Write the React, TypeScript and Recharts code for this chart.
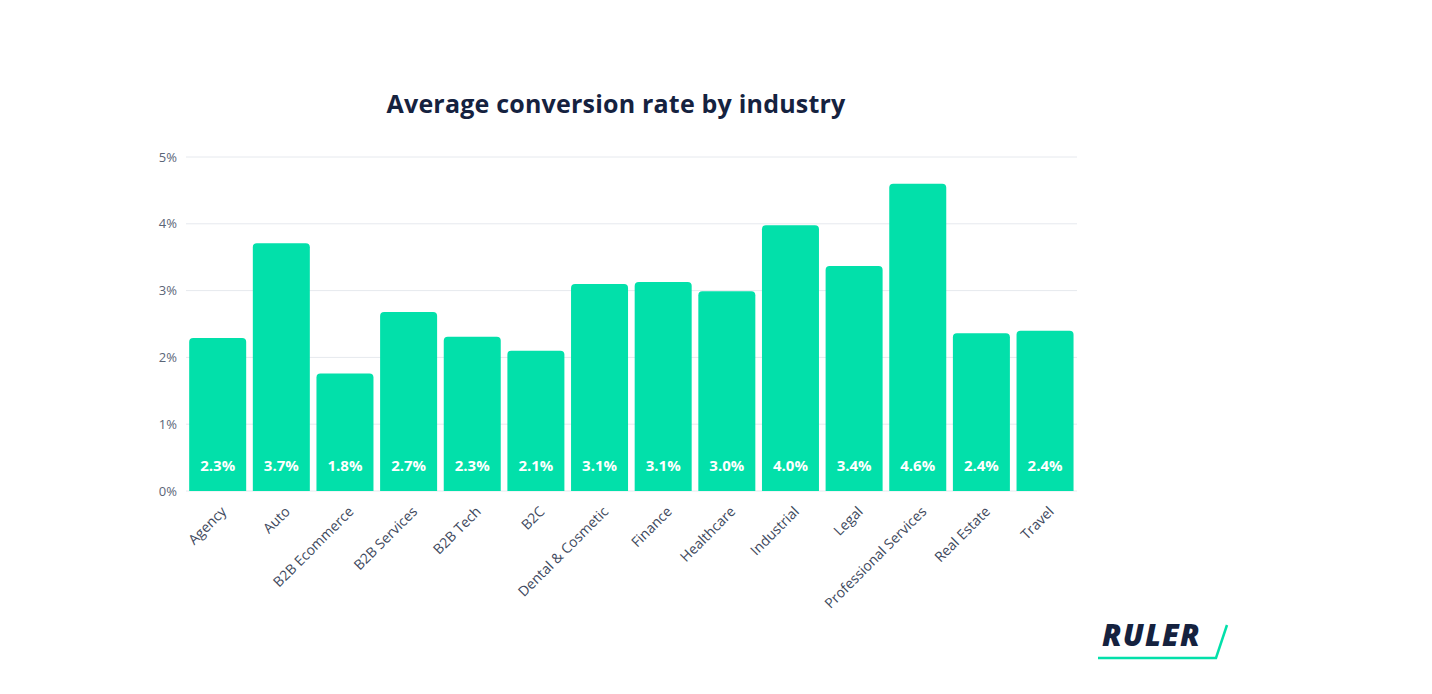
import React from 'react';
import { BarChart, Bar, XAxis, YAxis, CartesianGrid, LabelList } from 'recharts';

const industries = [
  'Agency',
  'Auto',
  'B2B Ecommerce',
  'B2B Services',
  'B2B Tech',
  'B2C',
  'Dental & Cosmetic',
  'Finance',
  'Healthcare',
  'Industrial',
  'Legal',
  'Professional Services',
  'Real Estate',
  'Travel',
];

// bar heights (percent)
const conversionRates = [2.29, 3.71, 1.76, 2.68, 2.31, 2.1, 3.1, 3.13, 2.99, 3.98, 3.37, 4.6, 2.36, 2.4];

// labels as printed inside the bars
const rateLabels = ['2.3%', '3.7%', '1.8%', '2.7%', '2.3%', '2.1%', '3.1%', '3.1%', '3.0%', '4.0%', '3.4%', '4.6%', '2.4%', '2.4%'];

const yTicks = [0, 1, 2, 3, 4, 5];

const data = industries.map((name, i) => ({
  name,
  rate: conversionRates[i],
  label: rateLabels[i],
}));

const FONT = '"Open Sans", Lato, sans-serif';
const GREEN = '#02E0AA';
const NAVY = '#15223F';

const IndustryTick = (props: any) => {
  const { x, y, payload } = props;
  return (
    <g transform={`translate(${x + 6},${y + 10}) rotate(-45)`}>
      <text
        x={0}
        y={0}
        dy="0.35em"
        textAnchor="end"
        fill="#3E495D"
        fontSize={14}
        fontWeight={500}
        fontFamily={FONT}
      >
        {payload.value}
      </text>
    </g>
  );
};

const InsideLabel = (props: any) => {
  const { x, y, width, height, value } = props;
  return (
    <text
      x={x + width / 2}
      y={y + height - 25}
      dy="0.35em"
      textAnchor="middle"
      fill="#ffffff"
      fontSize={15}
      fontWeight={700}
      fontFamily={FONT}
    >
      {value}
    </text>
  );
};

export default function App() {
  return (
    <div style={{ position: 'absolute', left: 0, top: 0, width: 1432, height: 694, background: '#fff', fontFamily: FONT }}>
      <div
        style={{
          position: 'absolute',
          left: 0,
          top: 86,
          width: 1232,
          textAlign: 'center',
          fontSize: 25,
          fontWeight: 700,
          color: NAVY,
          letterSpacing: 0.2,
        }}
      >
        Average conversion rate by industry
      </div>

      <BarChart
        width={1432}
        height={694}
        data={data}
        margin={{ top: 157, right: 355, bottom: 73, left: 140 }}
        barCategoryGap="5%"
      >
        <CartesianGrid vertical={false} stroke="#E6E9EE" />
        <XAxis
          dataKey="name"
          interval={0}
          height={130}
          axisLine={false}
          tickLine={false}
          tick={<IndustryTick />}
        />
        <YAxis
          width={46}
          domain={[0, 5]}
          ticks={yTicks}
          axisLine={false}
          tickLine={false}
          tickMargin={3}
          tickFormatter={(v: number) => `${v}%`}
          tick={{ fill: '#5B6577', fontSize: 13, fontWeight: 500, fontFamily: FONT }}
        />
        <Bar dataKey="rate" fill={GREEN} radius={[4, 4, 0, 0]} isAnimationActive={false}>
          <LabelList dataKey="label" content={<InsideLabel />} />
        </Bar>
      </BarChart>

      <div style={{ position: 'absolute', left: 1096, top: 614, width: 140, height: 50 }}>
        <div
          style={{
            position: 'absolute',
            left: 6,
            top: 3,
            fontSize: 30,
            fontWeight: 800,
            fontStyle: 'italic',
            color: NAVY,
            letterSpacing: 1.2,
            lineHeight: '36px',
          }}
        >
          RULER
        </div>
        <svg width={140} height={50} style={{ position: 'absolute', left: 0, top: 0 }}>
          <polyline points="2,44 120,44 131,11" fill="none" stroke={GREEN} strokeWidth={2.5} />
        </svg>
      </div>
    </div>
  );
}
